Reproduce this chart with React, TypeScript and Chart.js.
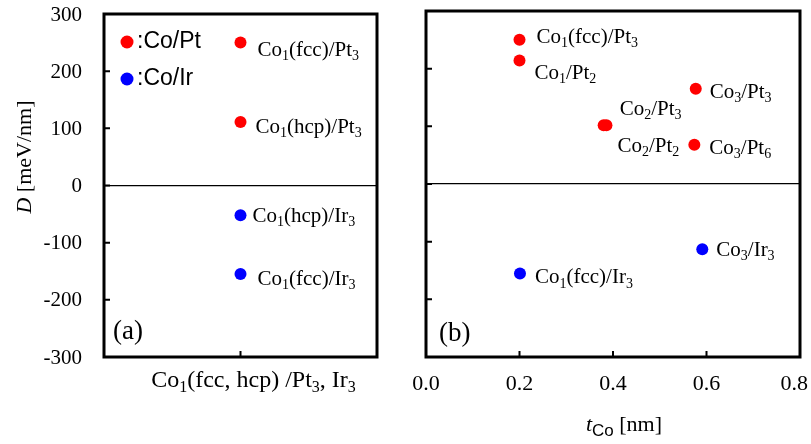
import { useEffect, useRef } from "react";
import { Chart, registerables } from "chart.js";
Chart.register(...registerables);

// ---------- data ----------
const yTickValues = [-300, -200, -100, 0, 100, 200, 300];
const xTickValuesB = [0.0, 0.2, 0.4, 0.6, 0.8];
const panelACategory = ["Co1(fcc, hcp) /Pt3, Ir3"];

const panelAPtNames = ["Co1(fcc)/Pt3", "Co1(hcp)/Pt3"];
const panelAPtValues = [250, 111];
const panelAIrNames = ["Co1(hcp)/Ir3", "Co1(fcc)/Ir3"];
const panelAIrValues = [-52, -155];

const panelBPtNames = ["Co1(fcc)/Pt3", "Co1/Pt2", "Co2/Pt3", "Co2/Pt2", "Co3/Pt3", "Co3/Pt6"];
const panelBPtX = [0.2, 0.2, 0.38, 0.386, 0.577, 0.574];
const panelBPtY = [250, 214, 102, 102, 165, 68];
const panelBIrNames = ["Co1(fcc)/Ir3", "Co3/Ir3"];
const panelBIrX = [0.201, 0.591];
const panelBIrY = [-155, -113];

const legendNames = [":Co/Pt", ":Co/Ir"];

// ---------- label placement (pixel offsets from each point) ----------
const labelOffA: Record<string, [number, number]> = {
  "Co1(fcc)/Pt3": [17, 6],
  "Co1(hcp)/Pt3": [15, 4],
  "Co1(hcp)/Ir3": [12, 0],
  "Co1(fcc)/Ir3": [17, 4],
};
const labelOffB: [number, number][] = [
  [17, -4],
  [15, 11],
  [16, -17],
  [11, 20],
  [14, 2],
  [15, 2],
];
const labelOffBIr: [number, number][] = [
  [15, 3],
  [14, 0],
];

const RED = "#ff0000";
const BLUE = "#0000ff";
const SERIF = '"Liberation Serif", "Times New Roman", serif';
const SANS = '"Liberation Sans", Arial, sans-serif';
const FS = 21;

type Seg = { t: string; sub?: boolean; italic?: boolean; family?: string; size?: number };

function parseLabel(s: string): Seg[] {
  const out: Seg[] = [];
  let cur = "";
  let curSub = false;
  for (const ch of s) {
    const isSub = /[0-9]/.test(ch);
    if (isSub !== curSub && cur) {
      out.push({ t: cur, sub: curSub });
      cur = "";
    }
    curSub = isSub;
    cur += ch;
  }
  if (cur) out.push({ t: cur, sub: curSub });
  return out;
}

function drawRich(
  ctx: CanvasRenderingContext2D,
  segs: Seg[],
  x: number,
  y: number,
  size: number,
  align: "left" | "center" | "right" = "left"
) {
  const font = (s: Seg) =>
    `${s.italic ? "italic " : ""}${s.size ? s.size : s.sub ? Math.round(size * 0.68) : size}px ${s.family || SERIF}`;
  let w = 0;
  for (const s of segs) {
    ctx.font = font(s);
    w += ctx.measureText(s.t).width;
  }
  let cx = align === "left" ? x : align === "center" ? x - w / 2 : x - w;
  const base = y + size * 0.33;
  ctx.textBaseline = "alphabetic";
  ctx.textAlign = "left";
  ctx.fillStyle = "#000";
  for (const s of segs) {
    ctx.font = font(s);
    ctx.fillText(s.t, cx, s.sub ? base + size * 0.2 : base);
    cx += ctx.measureText(s.t).width;
  }
}

function drawFrameAndTicks(chart: any, xTickVals: number[] | null, tickLen = 6) {
  const ctx: CanvasRenderingContext2D = chart.ctx;
  const a = chart.chartArea;
  const ys = chart.scales.y;
  const xs = chart.scales.x;
  ctx.save();
  ctx.strokeStyle = "#000";
  ctx.lineWidth = 2;
  ctx.beginPath();
  for (const v of yTickValues) {
    const py = ys.getPixelForValue(v);
    ctx.moveTo(a.left, py);
    ctx.lineTo(a.left + tickLen, py);
  }
  if (xTickVals) {
    for (const v of xTickVals) {
      const px = xs.getPixelForValue(v);
      ctx.moveTo(px, a.bottom);
      ctx.lineTo(px, a.bottom - tickLen);
    }
  } else {
    const px = xs.getPixelForValue(0);
    ctx.moveTo(px, a.bottom);
    ctx.lineTo(px, a.bottom - tickLen);
  }
  ctx.stroke();
  ctx.lineWidth = 3;
  ctx.strokeRect(a.left, a.top, a.right - a.left, a.bottom - a.top);
  ctx.restore();
}

const pluginA = {
  id: "panelA",
  afterDraw(chart: any) {
    const ctx: CanvasRenderingContext2D = chart.ctx;
    const a = chart.chartArea;
    const ys = chart.scales.y;
    const xs = chart.scales.x;
    drawFrameAndTicks(chart, null);
    ctx.save();
    // y tick labels
    ctx.font = `${FS}px ${SERIF}`;
    ctx.fillStyle = "#000";
    ctx.textAlign = "right";
    ctx.textBaseline = "middle";
    for (const v of yTickValues) {
      ctx.fillText(String(v), a.left - 22, ys.getPixelForValue(v) + 1);
    }
    // y title
    ctx.save();
    ctx.translate(24, 157);
    ctx.rotate(-Math.PI / 2);
    drawRich(ctx, [{ t: "D", italic: true }, { t: " [meV/nm]" }], 0, 0, 22, "center");
    ctx.restore();
    // x label
    drawRich(ctx, parseLabel(panelACategory[0]), xs.getPixelForValue(0) + 13, a.bottom + 22, 24, "center");
    // point labels
    const px = xs.getPixelForValue(0);
    [...panelAPtNames.map((n, i) => [n, panelAPtValues[i]] as [string, number]),
     ...panelAIrNames.map((n, i) => [n, panelAIrValues[i]] as [string, number])].forEach(([n, v]) => {
      const off = labelOffA[n];
      drawRich(ctx, parseLabel(n), px + off[0], ys.getPixelForValue(v) + off[1], FS, "left");
    });
    // legend
    const colors = [RED, BLUE];
    legendNames.forEach((n, i) => {
      const ly = a.top + 28 + i * 37;
      ctx.beginPath();
      ctx.fillStyle = colors[i];
      ctx.arc(a.left + 23, ly, 6.5, 0, Math.PI * 2);
      ctx.fill();
      ctx.fillStyle = "#000";
      ctx.font = `23px ${SANS}`;
      ctx.textAlign = "left";
      ctx.textBaseline = "middle";
      ctx.fillText(n, a.left + 33, ly);
    });
    // panel tag
    drawRich(ctx, [{ t: "(a)" }], a.left + 9, a.bottom - 27, 27, "left");
    ctx.restore();
  },
};

const pluginB = {
  id: "panelB",
  afterDraw(chart: any) {
    const ctx: CanvasRenderingContext2D = chart.ctx;
    const a = chart.chartArea;
    const ys = chart.scales.y;
    const xs = chart.scales.x;
    drawFrameAndTicks(chart, xTickValuesB);
    ctx.save();
    ctx.font = `22px ${SERIF}`;
    ctx.fillStyle = "#000";
    ctx.textAlign = "center";
    ctx.textBaseline = "middle";
    const maxRight = chart.width - 3;
    for (const v of xTickValuesB) {
      const s = v.toFixed(1);
      const w = ctx.measureText(s).width;
      let cx = xs.getPixelForValue(v);
      if (cx + w / 2 > maxRight) cx = maxRight - w / 2;
      ctx.fillText(s, cx, a.bottom + 27);
    }
    // x title
    drawRich(
      ctx,
      [{ t: "t", italic: true }, { t: "Co", family: SANS, size: 17, sub: true }, { t: " [nm]" }],
      (a.left + a.right) / 2 + 11,
      a.bottom + 67,
      22,
      "center"
    );
    panelBPtNames.forEach((n, i) => {
      const off = labelOffB[i];
      drawRich(ctx, parseLabel(n), xs.getPixelForValue(panelBPtX[i]) + off[0], ys.getPixelForValue(panelBPtY[i]) + off[1], FS, "left");
    });
    panelBIrNames.forEach((n, i) => {
      const off = labelOffBIr[i];
      drawRich(ctx, parseLabel(n), xs.getPixelForValue(panelBIrX[i]) + off[0], ys.getPixelForValue(panelBIrY[i]) + off[1], FS, "left");
    });
    drawRich(ctx, [{ t: "(b)" }], a.left + 13, a.bottom - 25, 27, "left");
    ctx.restore();
  },
};

const yScaleCommon = (width: number) => ({
  type: "linear" as const,
  min: -300,
  max: 300,
  ticks: { stepSize: 100, display: false },
  grid: {
    color: (c: any) => (c.tick && c.tick.value === 0 ? "#000" : "rgba(0,0,0,0)"),
    lineWidth: 1.2,
    drawTicks: false,
  },
  border: { display: false },
  afterFit: (s: any) => {
    s.width = width;
  },
});

export default function App() {
  const refA = useRef<HTMLCanvasElement>(null);
  const refB = useRef<HTMLCanvasElement>(null);

  useEffect(() => {
    const chartA = new Chart(refA.current as HTMLCanvasElement, {
      type: "scatter",
      data: {
        labels: panelACategory,
        datasets: [
          {
            data: panelAPtValues.map((v) => ({ x: panelACategory[0], y: v })) as any,
            backgroundColor: RED,
            borderWidth: 0,
            pointRadius: 6,
          },
          {
            data: panelAIrValues.map((v) => ({ x: panelACategory[0], y: v })) as any,
            backgroundColor: BLUE,
            borderWidth: 0,
            pointRadius: 6,
          },
        ],
      },
      options: {
        responsive: false,
        animation: false,
        layout: { padding: { left: 0, right: 43, top: 14, bottom: 0 } },
        plugins: { legend: { display: false }, tooltip: { enabled: false } },
        scales: {
          x: {
            type: "category",
            labels: panelACategory,
            offset: true,
            grid: { display: false, drawTicks: false },
            border: { display: false },
            ticks: { display: false },
            afterFit: (s: any) => {
              s.height = 87;
            },
          },
          y: yScaleCommon(104),
        },
      } as any,
      plugins: [pluginA],
    });

    const chartB = new Chart(refB.current as HTMLCanvasElement, {
      type: "scatter",
      data: {
        datasets: [
          {
            data: panelBPtX.map((x, i) => ({ x, y: panelBPtY[i] })),
            backgroundColor: RED,
            borderWidth: 0,
            pointRadius: 6,
          },
          {
            data: panelBIrX.map((x, i) => ({ x, y: panelBIrY[i] })),
            backgroundColor: BLUE,
            borderWidth: 0,
            pointRadius: 6,
          },
        ],
      },
      options: {
        responsive: false,
        animation: false,
        layout: { padding: { left: 0, right: 11, top: 11, bottom: 0 } },
        plugins: { legend: { display: false }, tooltip: { enabled: false } },
        scales: {
          x: {
            type: "linear",
            min: 0,
            max: 0.8,
            ticks: { stepSize: 0.2, display: false },
            grid: { display: false, drawTicks: false },
            border: { display: false },
            afterFit: (s: any) => {
              s.height = 87;
            },
          },
          y: yScaleCommon(36),
        },
      } as any,
      plugins: [pluginB],
    });

    return () => {
      chartA.destroy();
      chartB.destroy();
    };
  }, []);

  return (
    <div style={{ position: "fixed", left: 0, top: 0, width: 811, height: 444, background: "#fff" }}>
      <canvas ref={refA} width={420} height={444} style={{ position: "absolute", left: 0, top: 0 }} />
      <canvas ref={refB} width={421} height={444} style={{ position: "absolute", left: 390, top: 0 }} />
    </div>
  );
}
